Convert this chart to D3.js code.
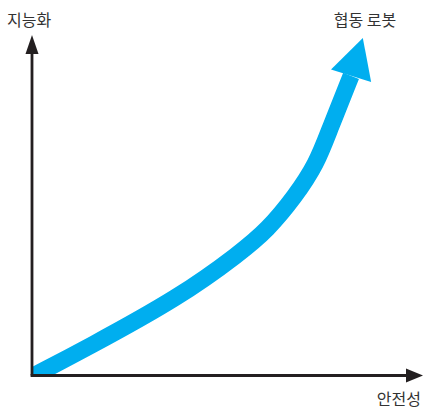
<!DOCTYPE html>
<html><head><meta charset="utf-8">
<script src="https://cdn.jsdelivr.net/npm/d3@7"></script>
<style>body{margin:0;background:#fff}svg{display:block}text{font-family:"Noto Sans CJK KR","Noto Sans",sans-serif;fill:#333}</style>
</head><body><svg id="c" width="426" height="409"></svg>
<script>
// Axis labels
const xLabel = "안전성";
const yLabel = "지능화";
const seriesLabel = "협동 로봇";
// Curve (safety vs intelligence), in 0-100 units
const safety =       [0, 14.2, 38.7, 54.5, 61.7, 68.9, 74.7, 78.0, 83.7];
const intelligence = [0,  8.3, 23.4, 36.4, 43.2, 53.0, 62.9, 72.8, 88.8];
const tip = [86.8, 100];

const svg = d3.select("#c");
const x = d3.scaleLinear().domain([0,100]).range([33,413]);
const y = d3.scaleLinear().domain([0,100]).range([376,38]);
const ox = 32, oy = 375.5;
const axisColor = "#231f20";

svg.append("clipPath").attr("id","clip").append("rect")
  .attr("x",ox).attr("y",0).attr("width",426).attr("height",oy);

const pts = safety.map((s,i)=>[x(s), y(intelligence[i])]);
const line = d3.line().curve(d3.curveBasis);
svg.append("path").attr("d", line(pts)).attr("fill","none")
  .attr("stroke","#00aeef").attr("stroke-width",17).attr("clip-path","url(#clip)");

// arrow head
const end = pts[pts.length-1], t = [x(tip[0]), y(tip[1])];
const dx = t[0]-end[0], dy = t[1]-end[1], L = Math.hypot(dx,dy);
const nx = -dy/L, ny = dx/L, hw = 21;
svg.append("path").attr("fill","#00aeef")
  .attr("d", `M${t[0]},${t[1]}L${end[0]+nx*hw},${end[1]+ny*hw}L${end[0]-nx*hw},${end[1]-ny*hw}Z`);

// axes
svg.append("line").attr("x1",ox).attr("y1",oy).attr("x2",ox).attr("y2",50)
  .attr("stroke",axisColor).attr("stroke-width",2.8);
svg.append("path").attr("fill",axisColor).attr("d",`M${ox},35L${ox-6.5},54L${ox+6.5},54Z`);
svg.append("line").attr("x1",ox-1.4).attr("y1",oy).attr("x2",410).attr("y2",oy)
  .attr("stroke",axisColor).attr("stroke-width",2.8);
svg.append("path").attr("fill",axisColor).attr("d",`M423,${oy}L406,${oy-7}L406,${oy+7}Z`);

svg.append("text").attr("x",7).attr("y",26).attr("font-size",16).text(yLabel);
svg.append("text").attr("x",365).attr("y",26).attr("font-size",16).attr("text-anchor","middle").text(seriesLabel);
svg.append("text").attr("x",421).attr("y",405).attr("font-size",16).attr("text-anchor","end").text(xLabel);
</script></body></html>
